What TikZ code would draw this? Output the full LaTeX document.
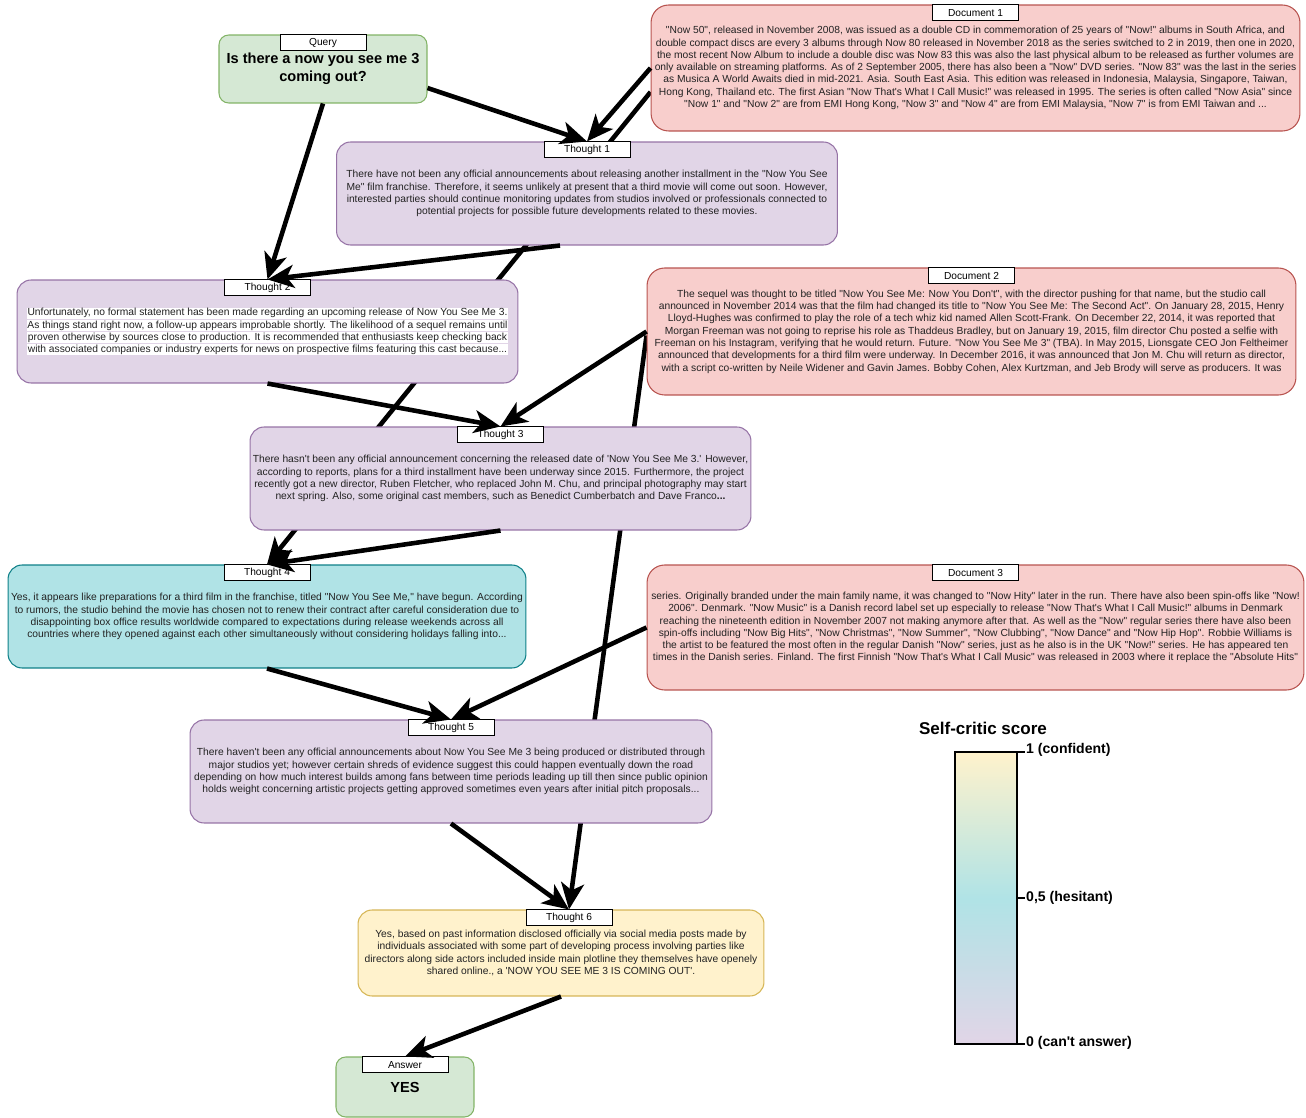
\documentclass[tikz,border=0pt]{standalone}
\usepackage{fontspec}
\setmainfont{Liberation Sans}[Ligatures=TeXOff]
\usetikzlibrary{arrows.meta,backgrounds}

\definecolor{qfill}{HTML}{D5E8D4}
\definecolor{qline}{HTML}{82B366}
\definecolor{dfill}{HTML}{F8CECC}
\definecolor{dline}{HTML}{B85450}
\definecolor{tfill}{HTML}{E1D5E7}
\definecolor{tline}{HTML}{9673A6}
\definecolor{cfill}{HTML}{B0E3E6}
\definecolor{cline}{HTML}{0E8088}
\definecolor{yfill}{HTML}{FFF2CC}
\definecolor{yline}{HTML}{D6B656}
\definecolor{txt}{HTML}{222222}

\newcommand{\hlt}[1]{{\setlength{\fboxsep}{0.4pt}\colorbox{white}{#1}}}

\begin{document}
\begin{tikzpicture}[x=0.02cm, y=-0.02cm,
  box/.style={draw, line width=0.6pt, align=center, inner sep=1pt, text=txt,
    font=\fontsize{5.85}{7}\selectfont},
  qbox/.style={box, fill=qfill, draw=qline, rounded corners=5.5pt, text=black,
    font=\bfseries\fontsize{8.3}{10.2}\selectfont},
  docbox/.style={box, fill=dfill, draw=dline, rounded corners=10pt},
  thbox/.style={box, fill=tfill, draw=tline, rounded corners=8pt,
    minimum width=10.02cm, minimum height=2.06cm},
  lab/.style={draw=black, fill=white, line width=0.45pt, anchor=north, inner sep=0pt,
    minimum width=1.72cm, minimum height=0.32cm, font=\fontsize{5.8}{6.8}\selectfont},
  arr/.style={line width=2.6pt, -{Stealth[length=15pt, width=13pt, inset=4pt]}},
  tick/.style={anchor=west, inner sep=0.5pt, font=\bfseries\fontsize{8}{9.6}\selectfont}]
\useasboundingbox (0,0) rectangle (1306,1118);

% query and documents
\node[qbox, minimum width=4.16cm, minimum height=1.36cm] (query) at (323,69) {Is there a now you see me 3\\coming out?};
\node[lab] (queryl) at (query.north) {Query};

\node[docbox, minimum width=12.98cm, minimum height=2.52cm] (doc1) at (975.5,68) {%
"Now 50", released in November 2008, was issued as a double CD in commemoration of 25 years of "Now!" albums in South Africa, and\\
double compact discs are every 3 albums through Now 80 released in November 2018 as the series switched to 2 in 2019, then one in 2020,\\
the most recent Now Album to include a double disc was Now 83 this was also the last physical album to be released as further volumes are\\
only available on streaming platforms. As of 2 September 2005, there has also been a "Now" DVD series. "Now 83" was the last in the series\\
as Musica A World Awaits died in mid-2021. Asia. South East Asia. This edition was released in Indonesia, Malaysia, Singapore, Taiwan,\\
Hong Kong, Thailand etc. The first Asian "Now That's What I Call Music!" was released in 1995. The series is often called "Now Asia" since\\
"Now 1" and "Now 2" are from EMI Hong Kong, "Now 3" and "Now 4" are from EMI Malaysia, "Now 7" is from EMI Taiwan and ...};
\node[lab] (doc1l) at (doc1.north) {Document 1};

\node[docbox, minimum width=12.98cm, minimum height=2.54cm] (doc2) at (971.5,331.5) {%
The sequel was thought to be titled "Now You See Me: Now You Don't", with the director pushing for that name, but the studio call\\
announced in November 2014 was that the film had changed its title to "Now You See Me: The Second Act". On January 28, 2015, Henry\\
Lloyd-Hughes was confirmed to play the role of a tech whiz kid named Allen Scott-Frank. On December 22, 2014, it was reported that\\
Morgan Freeman was not going to reprise his role as Thaddeus Bradley, but on January 19, 2015, film director Chu posted a selfie with\\
Freeman on his Instagram, verifying that he would return. Future. "Now You See Me 3" (TBA). In May 2015, Lionsgate CEO Jon Feltheimer\\
announced that developments for a third film were underway. In December 2016, it was announced that Jon M. Chu will return as director,\\
with a script co-written by Neile Widener and Gavin James. Bobby Cohen, Alex Kurtzman, and Jeb Brody will serve as producers. It was};
\node[lab] (doc2l) at (doc2.north) {Document 2};

\node[docbox, minimum width=13.14cm, minimum height=2.5cm] (doc3) at (975.5,627.5) {%
series. Originally branded under the main family name, it was changed to "Now Hity" later in the run. There have also been spin-offs like "Now!\\
2006". Denmark. "Now Music" is a Danish record label set up especially to release "Now That's What I Call Music!" albums in Denmark\\
reaching the nineteenth edition in November 2007 not making anymore after that. As well as the "Now" regular series there have also been\\
spin-offs including "Now Big Hits", "Now Christmas", "Now Summer", "Now Clubbing", "Now Dance" and "Now Hip Hop". Robbie Williams is\\
the artist to be featured the most often in the regular Danish "Now" series, just as he also is in the UK "Now!" series. He has appeared ten\\
times in the Danish series. Finland. The first Finnish "Now That's What I Call Music" was released in 2003 where it replace the "Absolute Hits"};
\node[lab] (doc3l) at (doc3.north) {Document 3};

% thoughts
\node[thbox] (t1) at (587,193.5) {%
There have not been any official announcements about releasing another installment in the "Now You See\\
Me" film franchise. Therefore, it seems unlikely at present that a third movie will come out soon. However,\\
interested parties should continue monitoring updates from studios involved or professionals connected to\\
potential projects for possible future developments related to these movies.};
\node[lab] (t1l) at (t1.north) {Thought 1};

\node[thbox] (t2) at (267.5,331.5) {%
\hlt{Unfortunately, no formal statement has been made regarding an upcoming release of Now You See Me 3.}\\
\hlt{As things stand right now, a follow-up appears improbable shortly. The likelihood of a sequel remains until}\\
\hlt{proven otherwise by sources close to production. It is recommended that enthusiasts keep checking back}\\
\hlt{with associated companies or industry experts for news on prospective films featuring this cast because...}};
\node[lab] (t2l) at (t2.north) {Thought 2};

\node[thbox] (t3) at (500.5,478.5) {%
There hasn't been any official announcement concerning the released date of 'Now You See Me 3.' However,\\
according to reports, plans for a third installment have been underway since 2015. Furthermore, the project\\
recently got a new director, Ruben Fletcher, who replaced John M. Chu, and principal photography may start\\
next spring. Also, some original cast members, such as Benedict Cumberbatch and Dave Franco\textbf{...}};
\node[lab] (t3l) at (t3.north) {Thought 3};

\node[thbox, fill=cfill, draw=cline, minimum width=10.36cm] (t4) at (267,616.5) {%
Yes, it appears like preparations for a third film in the franchise, titled "Now You See Me," have begun. According\\
to rumors, the studio behind the movie has chosen not to renew their contract after careful consideration due to\\
disappointing box office results worldwide compared to expectations during release weekends across all\\
countries where they opened against each other simultaneously without considering holidays falling into...};
\node[lab] (t4l) at (t4.north) {Thought 4};

\node[thbox, minimum width=10.44cm] (t5) at (451,771.5) {%
There haven't been any official announcements about Now You See Me 3 being produced or distributed through\\
major studios yet; however certain shreds of evidence suggest this could happen eventually down the road\\
depending on how much interest builds among fans between time periods leading up till then since public opinion\\
holds weight concerning artistic projects getting approved sometimes even years after initial pitch proposals...};
\node[lab] (t5l) at (t5.north) {Thought 5};

\node[thbox, fill=yfill, draw=yline, minimum width=8.12cm, minimum height=1.72cm] (t6) at (561,953) {%
Yes, based on past information disclosed officially via social media posts made by\\
individuals associated with some part of developing process involving parties like\\
directors along side actors included inside main plotline they themselves have openely\\
shared online., a 'NOW YOU SEE ME 3 IS COMING OUT'.};
\node[lab, xshift=0.16cm] (t6l) at (t6.north) {Thought 6};

\node[qbox, minimum width=2.76cm, minimum height=1.2cm] (ans) at (405,1087) {YES};
\node[lab] (ansl) at (ans.north) {Answer};

% connectors
\draw[arr] ([yshift=-0.38cm]query.east) -- (t1l.north);
\draw[arr] (query.south) -- (t2l.north);
\draw[arr] (doc1.west) -- (t1l.north);
\draw[arr] ([xshift=-0.54cm]t1.south) -- (t2l.north);
\draw[arr] (t2.south) -- (t3l.north);
\draw[arr] (doc2.west) -- (t3l.north);
\draw[arr] (t3.south) -- (t4l.north);
\draw[arr] (t4.south) -- (t5l.north);
\draw[arr] (doc3.west) -- (t5l.north);
\draw[arr] (t5.south) -- (t6l.north);
\draw[arr] (t6.south) -- (ansl.north);
\begin{scope}[on background layer]
\draw[arr] ([yshift=-0.48cm]doc1.west) -- (t4l.north);
\draw[arr] ([yshift=-0.08cm]doc2.west) -- (t6l.north);
\end{scope}

% score bar
\node[font=\bfseries\fontsize{9.7}{11.6}\selectfont, inner sep=0pt] (sctitle) at (983,728) {Self-critic score};
\shade[top color=yfill, bottom color=cfill] (955,752) rectangle (1017,898);
\shade[top color=cfill, bottom color=tfill] (955,898) rectangle (1017,1044);
\draw[line width=1.6pt] (955,752) rectangle (1017,1044);
\draw[line width=1.6pt] (1017,752) -- (1025,752);
\draw[line width=1.6pt] (1017,898) -- (1025,898);
\draw[line width=1.6pt] (1017,1044) -- (1025,1044);
\node[tick] (sc1) at (1025,750) {1 (confident)};
\node[tick] (sc05) at (1025,898) {0,5 (hesitant)};
\node[tick] (sc0) at (1025,1043) {0 (can't answer)};
\end{tikzpicture}
\end{document}
